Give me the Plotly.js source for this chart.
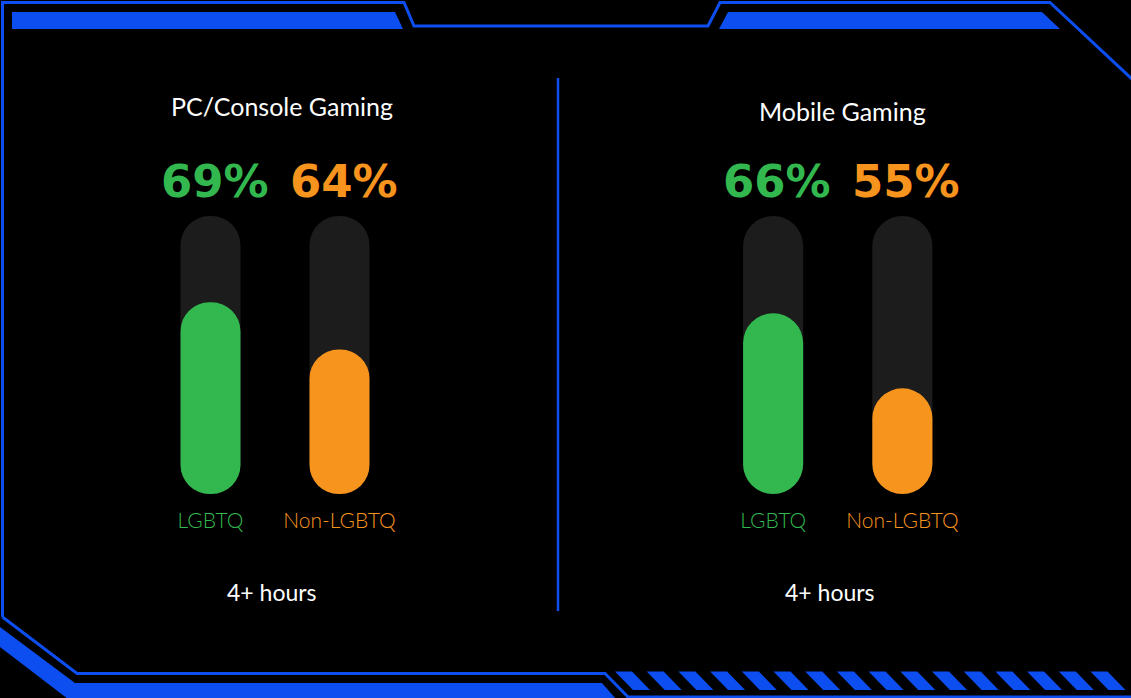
<!DOCTYPE html>
<html>
<head>
<meta charset="utf-8">
<script src="https://cdn.plot.ly/plotly-3.0.1.min.js"></script>
<style>html,body{margin:0;padding:0;background:#000;}#chart{width:1131px;height:698px;}</style>
</head>
<body>
<div id="chart"></div>
<script>
// ---- data ----
const groups = ["LGBTQ", "Non-LGBTQ"];
const panelTitles = ["PC/Console Gaming", "Mobile Gaming"];
const pcPercentLabels = [69, 64];
const mobilePercentLabels = [66, 55];
const pcFillLevels = [69, 52];       // bar fill heights (0-100 track)
const mobileFillLevels = [65, 38];
const trackLevels = [100, 100];
const hoursLabel = "4+ hours";

// ---- styles ----
const W = 1131, H = 698;
const BLUE = "#0d4ef0";
const TRACK = "#1c1c1c";
const FILL = ["#32b84f", "#f7941e"];
const LABEL = ["#32b84f", "#f7941e"];
const BAR_W = 0.465;

function px(x){ return x / W; }
function py(y){ return 1 - y / H; }

function pillTrace(xa, ya, levels, colors){
  return {
    type: "bar", x: groups, y: levels, base: levels.map(() => 0),
    width: BAR_W, xaxis: xa, yaxis: ya,
    marker: {color: colors, cornerradius: "50%", line: {width: 0}},
    hoverinfo: "skip", showlegend: false
  };
}

const traces = [
  pillTrace("x", "y", trackLevels, [TRACK, TRACK]),
  pillTrace("x", "y3", pcFillLevels, FILL),
  pillTrace("x2", "y2", trackLevels, [TRACK, TRACK]),
  pillTrace("x2", "y4", mobileFillLevels, FILL)
];

const tickText = groups.map((g, i) => '<span style="color:' + LABEL[i] + '">' + g + '</span>');

function xAxis(domain, anchor){
  return {
    domain: domain, anchor: anchor, type: "category", range: [-0.5, 1.5],
    showgrid: false, zeroline: false, showline: false, ticks: "",
    tickvals: groups, ticktext: tickText, ticklabelstandoff: 12,
    tickfont: {family: "Lato, 'Open Sans', sans-serif", size: 21, weight: 300}, fixedrange: true
  };
}
function yAxis(anchor, overlaying){
  const a = {
    domain: [py(494), py(216)], anchor: anchor, range: [0, 100],
    showgrid: false, zeroline: false, showline: false, showticklabels: false, ticks: "", fixedrange: true
  };
  if (overlaying) a.overlaying = overlaying;
  return a;
}

// ---- annotations ----
const annotations = [];
const titleFont = {family: "Lato, 'Open Sans', sans-serif", size: 25, color: "#ffffff"};
annotations.push({xref: "paper", yref: "paper", x: px(282), y: py(106), text: panelTitles[0], showarrow: false, font: titleFont, xanchor: "center", yanchor: "middle"});
annotations.push({xref: "paper", yref: "paper", x: px(842), y: py(111), text: panelTitles[1], showarrow: false, font: titleFont, xanchor: "center", yanchor: "middle"});
const hoursFont = {family: "Lato, 'Open Sans', sans-serif", size: 23, color: "#ffffff"};
annotations.push({xref: "paper", yref: "paper", x: px(272), y: py(592), text: hoursLabel, showarrow: false, font: hoursFont, xanchor: "center", yanchor: "middle"});
annotations.push({xref: "paper", yref: "paper", x: px(830), y: py(592), text: hoursLabel, showarrow: false, font: hoursFont, xanchor: "center", yanchor: "middle"});
[[pcPercentLabels, "x"], [mobilePercentLabels, "x2"]].forEach(([vals, xa]) => {
  vals.forEach((v, i) => {
    annotations.push({
      xref: xa, yref: "paper", x: groups[i], y: py(181), text: "<b>" + v + "%</b>", showarrow: false,
      xshift: 4, xanchor: "center", yanchor: "middle",
      font: {family: "'DejaVu Sans', sans-serif", size: 45, color: FILL[i]}
    });
  });
});

// ---- decorative frame (paper shapes) ----
const shapes = [];
function pathFrom(pts){ return "M " + pts.map(p => px(p[0]).toFixed(5) + "," + py(p[1]).toFixed(5)).join(" L "); }
shapes.push({type: "path", xref: "paper", yref: "paper", layer: "below",
  path: pathFrom([[2.5,617],[2.5,2.5],[404,2.5],[414,26],[708,26],[720,2.5],[1050,2.5],[1133,80]]),
  line: {color: BLUE, width: 3}});
shapes.push({type: "path", xref: "paper", yref: "paper", layer: "below",
  path: pathFrom([[2.5,617],[77,673.5],[605,673.5],[628,697],[1133,697]]),
  line: {color: BLUE, width: 3}});
shapes.push({type: "path", xref: "paper", yref: "paper", layer: "below",
  path: pathFrom([[12,12],[395,12],[403,29],[12,29]]) + " Z", fillcolor: BLUE, line: {width: 0}});
shapes.push({type: "path", xref: "paper", yref: "paper", layer: "below",
  path: pathFrom([[728,12],[1042,12],[1060,29],[719,29]]) + " Z", fillcolor: BLUE, line: {width: 0}});
shapes.push({type: "path", xref: "paper", yref: "paper", layer: "below",
  path: pathFrom([[0,627],[75,683],[602,683],[616,699],[68,699],[0,647]]) + " Z", fillcolor: BLUE, line: {width: 0}});
for (let i = 0; i < 16; i++) {
  const x0 = 615 + 31.7 * i;
  shapes.push({type: "path", xref: "paper", yref: "paper", layer: "below",
    path: pathFrom([[x0,671.5],[x0+17,671.5],[x0+35,690],[x0+18,690]]) + " Z", fillcolor: BLUE, line: {width: 0}});
}
shapes.push({type: "line", xref: "paper", yref: "paper", layer: "below",
  x0: px(558), x1: px(558), y0: py(78), y1: py(611), line: {color: BLUE, width: 2.5}});

const layout = {
  width: W, height: H, autosize: false,
  margin: {l: 0, r: 0, t: 0, b: 0},
  paper_bgcolor: "#000000", plot_bgcolor: "rgba(0,0,0,0)",
  barmode: "overlay", showlegend: false,
  xaxis: xAxis([px(146), px(404)], "y"),
  yaxis: yAxis("x"),
  yaxis3: yAxis("x", "y"),
  xaxis2: xAxis([px(708.5), px(967)], "y2"),
  yaxis2: yAxis("x2"),
  yaxis4: yAxis("x2", "y2"),
  annotations: annotations,
  shapes: shapes
};

Plotly.newPlot("chart", traces, layout, {staticPlot: true, displayModeBar: false});
</script>
</body>
</html>
